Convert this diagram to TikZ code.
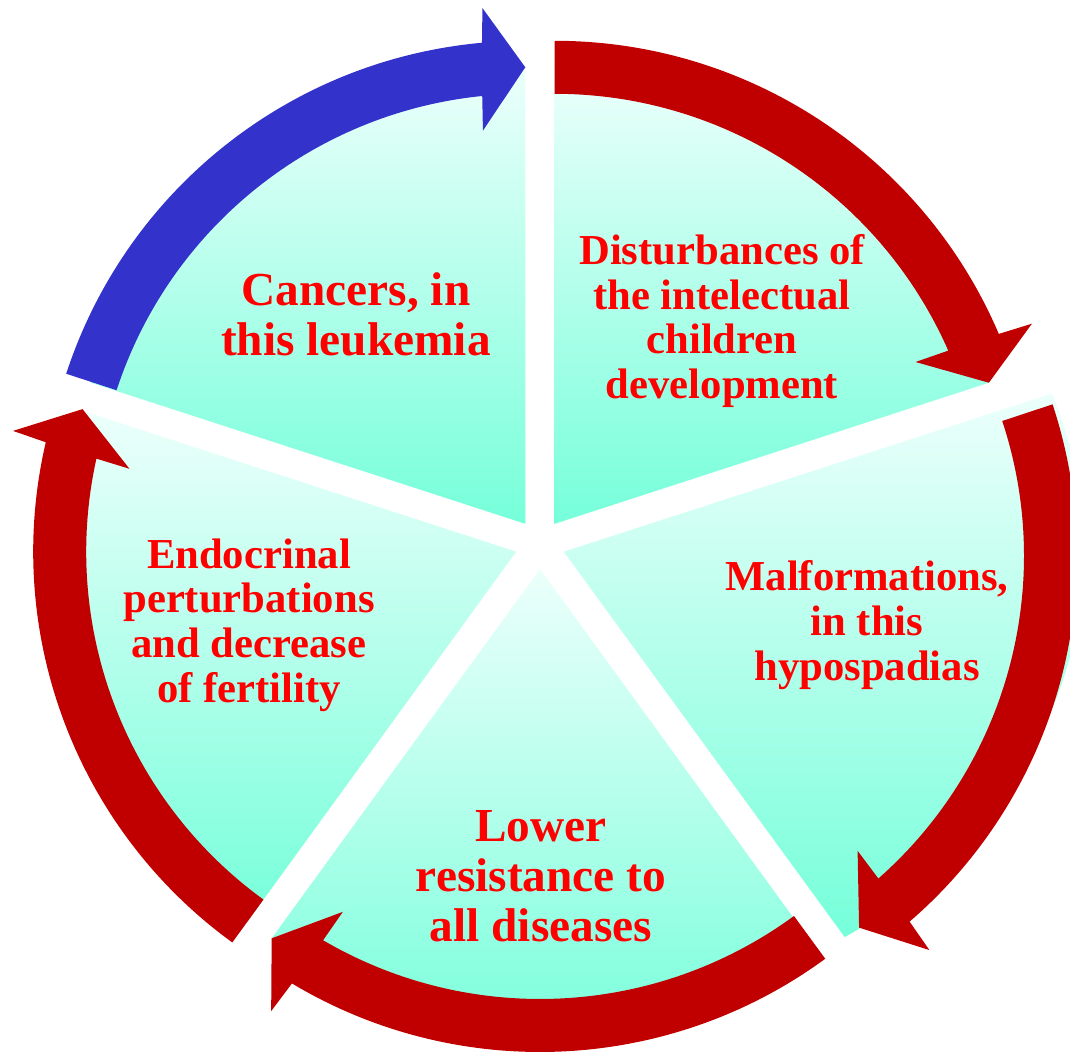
\documentclass[tikz,border=0pt]{standalone}
\usepackage{fontspec}
\setmainfont{Liberation Serif}
\definecolor{arrred}{RGB}{192,0,0}
\definecolor{arrblue}{RGB}{51,51,204}
\definecolor{txtred}{RGB}{255,0,0}
\definecolor{sectop}{RGB}{236,255,251}
\definecolor{secbot}{RGB}{118,255,218}
% arrow: #1 colour, #2,#3 centre, #4 tail angle, #5 head base angle, #6 tip angle
\newcommand{\circarr}[6]{%
  \fill[#1] ([shift={(#2,#3)}]#4:483) arc[start angle=#4, end angle={#5-0.3}, radius=483]
    -- ([shift={(#2,#3)}]{#5-0.7}:517.5)
    -- ([shift={(#2,#3)}]#6:456.5)
    -- ([shift={(#2,#3)}]{#5+0.7}:395.5)
    -- ([shift={(#2,#3)}]{#5+0.3}:430)
    arc[start angle={#5+0.3}, end angle=#4, radius=430] -- cycle;}
% pie slice: #1,#2 apex, #3 start angle, #4 end angle
\newcommand{\pieslice}[4]{%
  \shade[slicefill] (#1,#2) -- ([shift={(#1,#2)}]#3:457)
    arc[start angle=#3, end angle=#4, radius=457] -- cycle;}
\begin{document}
\begin{tikzpicture}[x=0.75pt, y=0.75pt,
  slicefill/.style={top color=sectop, bottom color=secbot},
  biglbl/.style={text=txtred, align=center, inner sep=0pt,
    font=\fontsize{35.5}{37.5}\selectfont\bfseries},
  lbl/.style={text=txtred, align=center, inner sep=0pt,
    font=\fontsize{32}{33.5}\selectfont\bfseries}]
\useasboundingbox (0,0) rectangle (1070,1051);
\clip (0,0) rectangle (1070,1051);
% slices
\pieslice{554.7}{527.2}{18}{90}
\pieslice{540}{482}{-126}{-54}
\pieslice{516.2}{499.3}{162}{234}
\pieslice{525.3}{527.2}{90}{162}
\shade[slicefill] (563.8,499.3) -- ++(280.9,-385.4)
  arc[start angle=-57.3, end angle=20.2, x radius=520, y radius=458] -- cycle;
% arrows
\circarr{arrblue}{525.3}{527.2}{161.9}{95.45}{90}
\circarr{arrred}{554.7}{527.2}{90}{23.45}{18}
\circarr{arrred}{594}{495}{18.3}{-48.9}{-54.5}
\circarr{arrred}{540}{482}{-53.8}{-120.6}{-126}
\circarr{arrred}{516.2}{499.3}{234}{167.2}{161.8}
% labels
\node[biglbl] (cancer) at (356,737) {Cancers, in\\this leukemia};
\node[lbl] (disturb) at (722,730) {Disturbances of\\the intelectual\\children\\development};
\node[lbl] (malform) at (867,426) {Malformations,\\in this\\hypospadias};
\node[biglbl] (lower) at (541,175) {Lower\\resistance to\\all diseases};
\node[lbl] (endo) at (249,426) {Endocrinal\\perturbations\\and decrease\\of fertility};
\end{tikzpicture}
\end{document}
